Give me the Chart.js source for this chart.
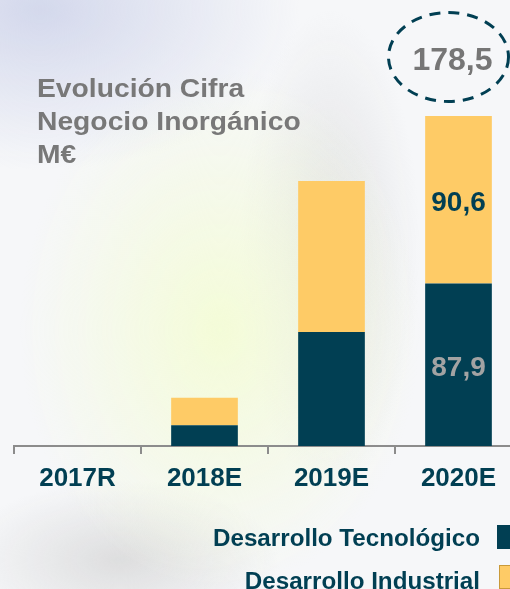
<!DOCTYPE html>
<html>
<head>
<meta charset="utf-8">
<script src="https://cdn.jsdelivr.net/npm/chart.js@4/dist/chart.umd.min.js"></script>
<style>
  html, body { margin: 0; padding: 0; width: 510px; height: 589px; overflow: hidden; }
  body {
    background:
      radial-gradient(ellipse 260px 160px at 40px 10px, rgba(200,206,232,0.75), rgba(200,206,232,0) 100%),
      radial-gradient(ellipse 200px 260px at 220px 330px, rgba(244,252,214,0.95), rgba(244,252,214,0) 100%),
      radial-gradient(ellipse 90px 240px at 330px 250px, rgba(200,200,200,0.45), rgba(200,200,200,0) 100%),
      radial-gradient(ellipse 160px 80px at 120px 560px, rgba(205,205,205,0.6), rgba(205,205,205,0) 100%),
      #f6f7f9;
  }
  #wrap { position: absolute; left: 0; top: 0; width: 522px; height: 589px; }
</style>
</head>
<body>
<div id="wrap"><canvas id="c"></canvas></div>
<script>
const categories = ['2017R', '2018E', '2019E', '2020E'];
const tecnologico = [0, 11.2, 61.7, 87.9];
const industrial = [0, 14.9, 81.7, 90.6];
const seriesNames = ['Desarrollo Tecnológico', 'Desarrollo Industrial'];
const titleLines = ['Evolución Cifra', 'Negocio Inorgánico', 'M€'];
const labelledIndex = 3;

const DARK = '#013f53';
const YELLOW = '#fecb66';
const FONT = '"Liberation Sans", Arial, Helvetica, sans-serif';
const fmt = v => v.toFixed(1).replace('.', ',');

const overlay = {
  id: 'overlay',
  afterDatasetsDraw(chart) {
    const ctx = chart.ctx;
    ctx.save();
    // title
    ctx.fillStyle = '#787878';
    ctx.font = 'bold 25px ' + FONT;
    ctx.textAlign = 'left';
    ctx.textBaseline = 'alphabetic';
    titleLines.forEach((t, i) => {
      ctx.save();
      ctx.translate(37, 97 + i * 33);
      ctx.scale(1.13, 1);
      ctx.fillText(t, 0, 0);
      ctx.restore();
    });
    // segment labels on labelled bar
    const m0 = chart.getDatasetMeta(0).data[labelledIndex];
    const m1 = chart.getDatasetMeta(1).data[labelledIndex];
    ctx.font = 'bold 28px ' + FONT;
    ctx.textAlign = 'center';
    ctx.textBaseline = 'middle';
    ctx.fillStyle = '#a3a3a3';
    ctx.fillText(fmt(tecnologico[labelledIndex]), m0.x, (m0.y + m0.base) / 2 + 4);
    ctx.fillStyle = DARK;
    ctx.fillText(fmt(industrial[labelledIndex]), m1.x, (m1.y + m1.base) / 2 + 4);
    // total with dashed ellipse
    const total = tecnologico[labelledIndex] + industrial[labelledIndex];
    ctx.fillStyle = '#767676';
    ctx.font = 'bold 32px ' + FONT;
    ctx.textBaseline = 'alphabetic';
    ctx.fillText(fmt(total), m1.x - 6, 70);
    ctx.strokeStyle = DARK;
    ctx.lineWidth = 3;
    ctx.setLineDash([11, 8]);
    ctx.beginPath();
    ctx.ellipse(m1.x - 10, 57, 60, 44.5, 0, 0, Math.PI * 2);
    ctx.stroke();
    ctx.setLineDash([]);
    // legend
    ctx.font = 'bold 24.2px ' + FONT;
    ctx.textAlign = 'right';
    ctx.fillStyle = DARK;
    ctx.fillText(seriesNames[0], 480, 546);
    ctx.fillText(seriesNames[1], 480, 589);
    ctx.fillStyle = DARK;
    ctx.fillRect(497, 525, 24, 24);
    ctx.fillStyle = YELLOW;
    ctx.fillRect(499, 565, 24, 24);
    ctx.strokeStyle = '#c99a3a';
    ctx.lineWidth = 1;
    ctx.strokeRect(499.5, 565.5, 23, 23);
    ctx.restore();
  }
};

new Chart(document.getElementById('c'), {
  type: 'bar',
  data: {
    labels: categories,
    datasets: [
      { label: seriesNames[0], data: tecnologico, backgroundColor: DARK, borderWidth: 0 },
      { label: seriesNames[1], data: industrial, backgroundColor: YELLOW, borderWidth: 0 }
    ]
  },
  options: {
    responsive: true,
    maintainAspectRatio: false,
    animation: false,
    layout: { padding: { left: 14, right: 0, top: 6, bottom: 103 } },
    datasets: { bar: { categoryPercentage: 1, barPercentage: 0.525 } },
    plugins: { legend: { display: false }, tooltip: { enabled: false } },
    scales: {
      x: {
        stacked: true,
        afterFit: s => { s.height = 40; },
        grid: { display: true, drawOnChartArea: false, drawTicks: true, tickLength: 8, color: '#8c8c8c', lineWidth: 2, offset: true },
        border: { display: true, color: '#8c8c8c', width: 2 },
        ticks: { color: DARK, font: { family: FONT, size: 26, weight: 'bold' }, padding: 9 }
      },
      y: { stacked: true, display: false, min: 0, max: 238 }
    }
  },
  plugins: [overlay]
});
</script>
</body>
</html>
